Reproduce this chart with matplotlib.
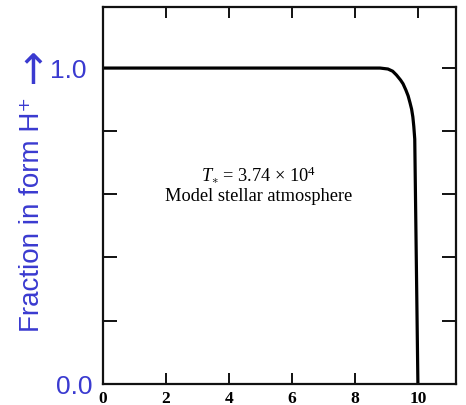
import matplotlib
matplotlib.use("Agg")
import matplotlib.pyplot as plt
import matplotlib.transforms as mtransforms

plt.rcParams["mathtext.fontset"] = "custom"
plt.rcParams["mathtext.rm"] = "Liberation Serif"
plt.rcParams["mathtext.it"] = "Liberation Serif:italic"
plt.rcParams["mathtext.bf"] = "Liberation Serif:bold"

# Ionisation curve: fraction of hydrogen in the form H+ versus distance
distance = [0.0, 8.8, 9.05, 9.2, 9.32, 9.45, 9.53, 9.62, 9.69, 9.75,
            9.80, 9.84, 9.87, 9.90, 10.0]
fraction_hplus = [1.0, 1.0, 0.997, 0.99, 0.978, 0.962, 0.95, 0.93, 0.912, 0.89,
                  0.87, 0.845, 0.815, 0.775, 0.0]

x_ticks = [0, 2, 4, 6, 8, 10]
x_tick_labels = ["0", "2", "4", "6", "8", "10"]
y_ticks = [0.0, 0.2, 0.4, 0.6, 0.8, 1.0]
y_tick_labels = ["0.0", "", "", "", "", "1.0"]

label_blue = "#3a3ad0"

fig = plt.figure(figsize=(4.66, 4.06), dpi=100)
ax = fig.add_axes([0.22, 0.0525, 0.758, 0.929])

ax.plot(distance, fraction_hplus, color="black", lw=2.3,
        solid_capstyle="butt", solid_joinstyle="round")

ax.set_xlim(0, 11.2)
ax.set_ylim(0, 1.195)

for sp in ax.spines.values():
    sp.set_linewidth(1.6)
    sp.set_color("#111111")

ax.set_xticks(x_ticks)
ax.set_xticklabels(x_tick_labels, fontfamily="Liberation Serif",
                   fontweight="bold", fontsize=12.5)
ax.set_yticks(y_ticks)
ax.set_yticklabels(y_tick_labels, fontfamily="Liberation Sans",
                   fontsize=19, color=label_blue)

ax.tick_params(axis="x", which="both", direction="in", length=8, width=1.4,
               top=True, bottom=True, pad=4.5, color="#111111")
ax.tick_params(axis="y", which="both", direction="in", length=10, width=1.4,
               left=True, right=True, pad=7, color="#111111")

# nudge the "1.0" label a little further from the axis
for lbl in ax.get_yticklabels():
    if lbl.get_text() == "1.0":
        lbl.set_transform(lbl.get_transform() +
                          mtransforms.ScaledTranslation(-6 / 100, 1 / 100,
                                                        fig.dpi_scale_trans))

# y-axis title with an arrow pointing up the axis
ax.text(-0.1985, 0.4505, "Fraction in form H\u207a", transform=ax.transAxes,
        rotation=90, ha="center", va="center", fontsize=20,
        color=label_blue, family=["Liberation Sans", "DejaVu Sans"])
ax.text(-0.1985, 0.828, "\u2191", transform=ax.transAxes,
        ha="center", va="center", fontsize=30,
        color=label_blue, family=["DejaVu Sans"])

ax.text(4.96, 0.665, r"$T_{\mathbf{\ast}}$ = 3.74 $\times$ 10$^{4}$", ha="center",
        va="center", fontsize=13.2, fontfamily="Liberation Serif")
ax.text(4.96, 0.595, "Model stellar atmosphere", ha="center", va="center",
        fontsize=13.2, fontfamily="Liberation Serif")

fig.savefig("out.png", dpi=100)
